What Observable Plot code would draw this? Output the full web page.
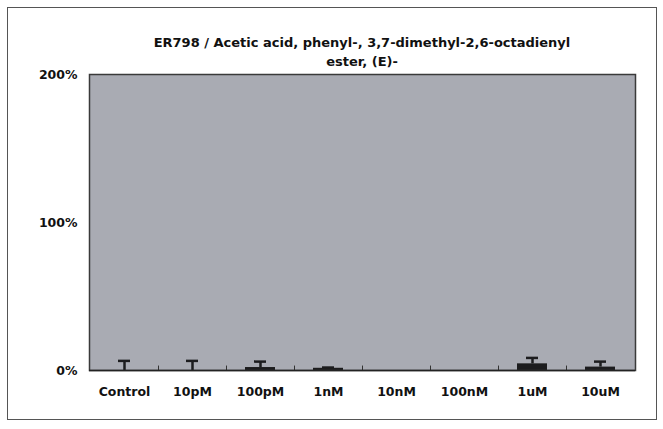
<!DOCTYPE html>
<html>
<head>
<meta charset="utf-8">
<script src="https://cdn.jsdelivr.net/npm/d3@7"></script>
<script src="https://cdn.jsdelivr.net/npm/@observablehq/plot@0.6"></script>
<style>
  html, body { margin: 0; padding: 0; background: #fff; }
  #wrap { position: relative; width: 663px; height: 429px; font-family: "DejaVu Sans", sans-serif; }
  #border { position: absolute; left: 7px; top: 7px; width: 650px; height: 413px; border: 1px solid #555; box-sizing: border-box; }
  #title { position: absolute; left: 69px; width: 586px; top: 33px; text-align: center; font-weight: bold; font-size: 13px; line-height: 19px; color: #111; }
  #chart { position: absolute; left: 0; top: 0; }
</style>
</head>
<body>
<div id="wrap">
  <div id="border"></div>
  <div id="chart"></div>
  <div id="title">ER798 / Acetic acid, phenyl-, 3,7-dimethyl-2,6-octadienyl<br>ester, (E)-</div>
</div>
<script>
const conc = ["Control", "10pM", "100pM", "1nM", "10nM", "100nM", "1uM", "10uM"];
const meanPct = [0, 0, 2, 1.5, 0, 0, 4.5, 2.3];
const errPct = [6.5, 6.5, 4, 0.5, 0, 0, 4, 3.7];
const yTicks = [0, 100, 200];

const data = conc.map((c, i) => ({conc: c, mean: meanPct[i], err: errPct[i]}));
const withErr = data.filter(d => d.err > 0);

const chart = Plot.plot({
  width: 663,
  height: 429,
  marginLeft: 89,
  marginRight: 28,
  marginTop: 74,
  marginBottom: 59,
  style: {fontFamily: "'DejaVu Sans', sans-serif", fontSize: "12.5px", fontWeight: "bold", color: "#111", background: "transparent"},
  x: {domain: conc, padding: 0, label: null},
  y: {domain: [0, 200], label: null},
  marks: [
    Plot.frame({fill: "#a9abb3", stroke: "none"}),
    Plot.barY(data, {x: "conc", y: "mean", fill: "#1c1c1e", insetLeft: 19, insetRight: 19}),
    Plot.ruleX(withErr, {x: "conc", y1: "mean", y2: d => d.mean + d.err, stroke: "#1c1c1e", strokeWidth: 2.5}),
    Plot.tickY(withErr, {x: "conc", y: d => d.mean + d.err, stroke: "#1c1c1e", strokeWidth: 2.5, insetLeft: 28, insetRight: 28}),
    Plot.ruleX(conc.slice(1), {x: d => d, y1: 0, y2: 3, dx: -34, stroke: "#333"}),
    Plot.frame({stroke: "#3a3a3a", strokeWidth: 1.5}),
    Plot.ruleY([0], {stroke: "#222", strokeWidth: 1.5}),
    Plot.axisY({ticks: yTicks, tickFormat: d => d + "%", tickSize: 0, tickPadding: 12, label: null}),
    Plot.axisX({tickSize: 0, tickPadding: 17, label: null})
  ]
});
document.getElementById("chart").append(chart);
</script>
</body>
</html>
